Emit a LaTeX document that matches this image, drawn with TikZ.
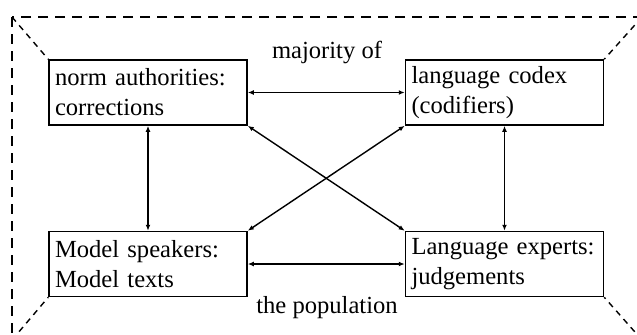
\documentclass[tikz,border=0pt]{standalone}
\usepackage{fontspec}
\setmainfont{Liberation Serif}
\usetikzlibrary{arrows.meta,positioning}
\tikzstyle{line} = [draw, {Latex[length=3pt,width=2.4pt]}-{Latex[length=3pt,width=2.4pt]}, line width=0.7pt]
\begin{document}
\begin{tikzpicture}[x=0.5pt,y=-0.5pt,
box/.style={draw,line width=0.75pt,minimum width=99pt,minimum height=32.5pt,text width=93pt,inner sep=3pt,align=left,font=\fontsize{12.3}{15}\selectfont},
lbl/.style={anchor=base,font=\fontsize{12.3}{15}\selectfont},
frame/.style={dash pattern=on 5pt off 3.5pt,line width=1.3pt},
corner/.style={dash pattern=on 3pt off 2.5pt,line width=0.7pt}]
\clip (0,0) rectangle (637,334);
% the four norm sources
\node[box] (auth) at (148,92.5) {norm authorities:\\corrections};
\node[box,right=78.5pt of auth] (codex) {language codex\\(codifiers)};
\node[box,below=52.5pt of auth] (model) {Model speakers:\\Model texts};
\node[box,right=78.5pt of model] (expert) {Language experts:\\judgements};
\node[lbl] (majority) at (327,58) {majority of};
\node[lbl] (population) at (327,313) {the population};
% outer frame
\coordinate (fnw) at (12,17);
\coordinate (fne) at (642,17);
\coordinate (fsw) at (12,340);
\coordinate (fse) at (642,340);
\draw[frame] (fnw) rectangle (fse);
\draw[corner] (fnw) -- (auth.north west);
\draw[corner] (fne) -- (codex.north east);
\draw[corner] (fsw) -- (model.south west);
\draw[corner] (fse) -- (expert.south east);
% relations
\draw[line] (auth) -- (codex);
\draw[line] (model) -- (expert);
\draw[line] (auth) -- (model);
\draw[line] (codex) -- (expert);
\draw[line] (auth.south east) -- (expert.north west);
\draw[line] (codex.south west) -- (model.north east);
\end{tikzpicture}
\end{document}
